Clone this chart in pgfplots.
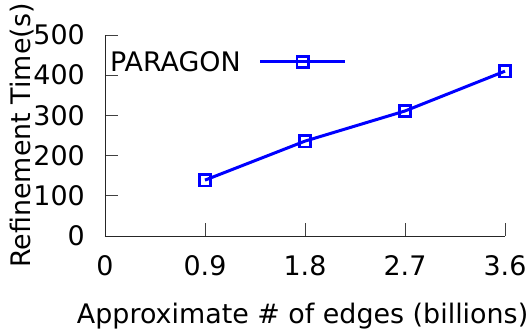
\documentclass[border=0pt]{standalone}
\usepackage{pgfplots}
\pgfplotsset{compat=1.18}
\usepackage{fontspec}
\setmainfont{DejaVu Sans}
\begin{document}
\begin{tikzpicture}[font=\fontsize{27}{32}\selectfont]
\begin{axis}[
  scale only axis, width=400bp, height=201bp,
  xmin=0, xmax=3.6, ymin=0, ymax=500,
  axis x line=bottom, axis y line=left,
  axis line style={-, line width=0.9bp, color=black!85},
  xtick={0,0.9,1.8,2.7,3.6}, xticklabels={0,0.9,1.8,2.7,3.6},
  ytick={0,100,...,500},
  tick align=inside, major tick length=13bp,
  tick style={line width=0.7bp, color=black!75},
  /pgf/number format/assume math mode=true,
  xticklabel style={inner sep=0pt, anchor=north, yshift=-19bp},
  yticklabel style={inner sep=0pt, anchor=east, xshift=-20bp},
  xlabel={Approximate \# of edges (billions)},
  ylabel={Refinement Time(s)},
  xlabel style={at={(axis description cs:0.494,-0.3333)}, anchor=north, inner sep=0pt},
  ylabel style={at={(axis description cs:-0.2075,0.5)}, anchor=center, inner sep=0pt},
  clip=false,
  legend plot pos=right,
  legend style={at={(axis description cs:0.0125,0.866)}, anchor=west,
    draw=none, fill=none, inner sep=0pt, nodes={inner sep=0pt}},
  legend image code/.code={
    \path (0bp,0bp);
    \draw[mark repeat=2, mark phase=2, #1] plot coordinates {(18bp,0bp) (60.5bp,0bp) (103bp,0bp)};
  },
]
\addplot[color=blue, line width=3bp, mark=square, mark size=5.8bp,
  mark options={line width=2.8bp, fill=none, solid}]
  coordinates {(0.9,139) (1.8,236) (2.7,311) (3.6,410)};
\addlegendentry{PARAGON}
\end{axis}
\pgfresetboundingbox
\path[use as bounding box] ([shift={(-105bp,-95bp)}]current axis.south west)
  rectangle ([shift={(25bp,35bp)}]current axis.north east);
\end{tikzpicture}
\end{document}
